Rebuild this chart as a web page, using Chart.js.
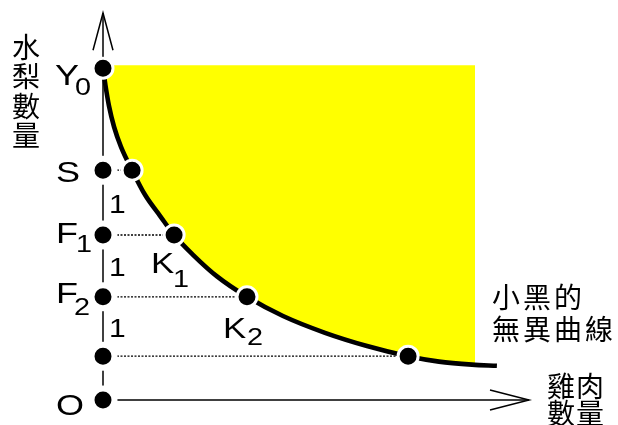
<!DOCTYPE html>
<html>
<head>
<meta charset="utf-8">
<script src="https://cdn.jsdelivr.net/npm/chart.js@4.4.0/dist/chart.umd.min.js"></script>
<style>
  html, body { margin: 0; padding: 0; background: #fff; }
  #wrap { width: 618px; height: 425px; }
</style>
</head>
<body>
<div id="wrap"><canvas id="chart"></canvas></div>
<script>
// levels on the vertical axis (pears), top to bottom
const levelNames = ["Y0", "S", "F1", "F2", "", "O"];
const levelY = [5.53, 3.83, 2.75, 1.72, 0.73, 0];
// points on the curve at levels S, F1, F2 and the lowest one
const pointNames = ["", "K1", "K2", ""];
const pointX = [0.97, 2.37, 4.8, 10.17];
const pointY = [3.83, 2.75, 1.72, 0.73];
// step size between the levels
const stepNames = ["1", "1", "1"];
// the indifference curve
const curveX = [0, 0.08, 0.2, 0.37, 0.6, 0.97, 1.4, 1.9, 2.37, 3.0, 3.8, 4.8, 6.0, 7.4, 8.8, 10.17, 11.2, 12.3, 13.13];
const curveY = [5.53, 5.25, 4.9, 4.55, 4.22, 3.83, 3.42, 3.07, 2.75, 2.42, 2.06, 1.72, 1.4, 1.12, 0.9, 0.73, 0.64, 0.59, 0.57];
// yellow area limits
const areaTop = 5.58;
const areaRight = 12.4;
// axis ends
const yAxisTop = 6.45;
const xAxisEnd = 14.2;

const yAxisName = "水梨數量";
const xAxisName = ["雞肉", "數量"];
const curveName = ["小黑的", "無異曲線"];

const BLACK = "#000000";
const WHITE = "#ffffff";

function pts(xs, ys) {
  return xs.map((x, i) => ({ x: x, y: ys[i] }));
}

function plainLine(data, extra) {
  return Object.assign({
    data: data,
    borderColor: BLACK,
    borderWidth: 1.5,
    pointRadius: 0,
    tension: 0,
    fill: false,
    order: 3,
  }, extra || {});
}

const datasets = [];

// 0: area top line (fill target)
datasets.push({
  data: pts([0, areaRight], [areaTop, areaTop]),
  borderColor: "rgba(0,0,0,0)",
  borderWidth: 0,
  pointRadius: 0,
  fill: false,
  order: 6,
});

// 1: the curve with yellow fill up to the top line
datasets.push({
  data: pts(curveX, curveY),
  borderColor: BLACK,
  borderWidth: 4.6,
  backgroundColor: "#ffff00",
  pointRadius: 0,
  cubicInterpolationMode: "monotone",
  fill: { target: 0 },
  order: 2,
});

// dotted guides from the axis to the curve points
pointX.forEach((x, i) => {
  datasets.push(plainLine(pts([0, x], [pointY[i], pointY[i]]), {
    borderWidth: 1.3,
    borderDash: [2, 1.5],
  }));
});

// axes and arrow heads
datasets.push(plainLine(pts([0, 0], [0, yAxisTop])));
datasets.push(plainLine(pts([0, xAxisEnd], [0, 0])));
datasets.push(plainLine(pts([-0.333, 0, 0.333], [5.83, yAxisTop, 5.83])));
datasets.push(plainLine(pts([12.9, xAxisEnd, 12.9], [0.167, 0, -0.167])));

// dots on the vertical axis
datasets.push({
  data: levelY.map((y) => ({ x: 0, y: y })),
  showLine: false,
  pointRadius: levelY.map((y, i) => (i === 0 ? 10 : 11.5)),
  pointBorderWidth: levelY.map((y, i) => (i === 0 ? 3 : 6)),
  pointBackgroundColor: BLACK,
  pointBorderColor: WHITE,
  order: 0,
});

// dots on the curve
datasets.push({
  data: pts(pointX, pointY),
  showLine: false,
  pointRadius: 10,
  pointBorderWidth: 3,
  pointBackgroundColor: BLACK,
  pointBorderColor: WHITE,
  order: 0,
});

function latin(ctx, text, x0, y0, size) {
  ctx.font = size + 'px "Liberation Sans", Arial, sans-serif';
  ctx.save();
  ctx.translate(x0, y0);
  ctx.scale(1.2, 1);
  ctx.fillText(text, 0, 0);
  ctx.restore();
}

function cjk(ctx, text, x0, yMid, pitch) {
  ctx.font = '28px "Noto Sans CJK TC", "Noto Sans CJK SC", sans-serif';
  ctx.textBaseline = "middle";
  Array.from(text).forEach((ch, i) => ctx.fillText(ch, x0 + i * pitch, yMid));
  ctx.textBaseline = "alphabetic";
}

// offsets of the text labels (pixels)
const levelLayout = [
  { dx: -48, dy: 17, sdx: -28, sdy: 27 },
  { dx: -47, dy: 12 },
  { dx: -47, dy: 8, sdx: -27, sdy: 17 },
  { dx: -47, dy: 6, sdx: -29, sdy: 18 },
  null,
  { dx: -47, dy: 15 },
];
const pointLayout = [
  null,
  { dx: -23, dy: 38, sdx: -1, sdy: 52 },
  { dx: -24, dy: 41, sdx: 0, sdy: 48 },
  null,
];

const labelPlugin = {
  id: "labels",
  afterDatasetsDraw(chart) {
    const ctx = chart.ctx;
    const sx = chart.scales.x;
    const sy = chart.scales.y;
    const ax = sx.getPixelForValue(0);
    ctx.save();
    ctx.fillStyle = BLACK;
    ctx.textAlign = "left";
    ctx.textBaseline = "alphabetic";

    levelNames.forEach((name, i) => {
      const lay = levelLayout[i];
      if (!name || !lay) return;
      const py = sy.getPixelForValue(levelY[i]);
      latin(ctx, name[0], ax + lay.dx, py + lay.dy, 30);
      if (name.length > 1) latin(ctx, name.slice(1), ax + lay.sdx, py + lay.sdy, 24);
    });

    pointNames.forEach((name, i) => {
      const lay = pointLayout[i];
      if (!name || !lay) return;
      const px = sx.getPixelForValue(pointX[i]);
      const py = sy.getPixelForValue(pointY[i]);
      latin(ctx, name[0], px + lay.dx, py + lay.dy, 29);
      latin(ctx, name.slice(1), px + lay.sdx, py + lay.sdy, 24);
    });

    stepNames.forEach((name, i) => {
      const mid = (sy.getPixelForValue(levelY[i + 1]) + sy.getPixelForValue(levelY[i + 2])) / 2;
      latin(ctx, name, ax + 6, mid + 10, 25);
    });

    // vertical axis name, one character per row
    const topPx = sy.getPixelForValue(yAxisTop);
    Array.from(yAxisName).forEach((ch, i) => {
      cjk(ctx, ch, ax - 91, topPx + 34 + i * 29.5, 0);
    });

    // horizontal axis name
    const endPx = sx.getPixelForValue(xAxisEnd);
    const zeroPx = sy.getPixelForValue(0);
    cjk(ctx, xAxisName[0], endPx + 18, zeroPx - 14, 29);
    cjk(ctx, xAxisName[1], endPx + 18, zeroPx + 13, 29);

    // curve name
    const cx = sx.getPixelForValue(curveX[curveX.length - 1]);
    const cy = sy.getPixelForValue(curveY[curveY.length - 1]);
    cjk(ctx, curveName[0], cx - 5, cy - 68, 31);
    cjk(ctx, curveName[1], cx - 5, cy - 36, 31);

    ctx.restore();
  },
};

new Chart(document.getElementById("chart"), {
  type: "line",
  data: { datasets: datasets },
  options: {
    responsive: true,
    maintainAspectRatio: false,
    animation: false,
    events: [],
    layout: { padding: 0, autoPadding: false },
    scales: {
      x: { type: "linear", min: -103 / 30, max: 515 / 30, display: false },
      y: { type: "linear", min: -25 / 60, max: 400 / 60, display: false },
    },
    plugins: {
      legend: { display: false },
      tooltip: { enabled: false },
    },
  },
  plugins: [labelPlugin],
});
</script>
</body>
</html>
